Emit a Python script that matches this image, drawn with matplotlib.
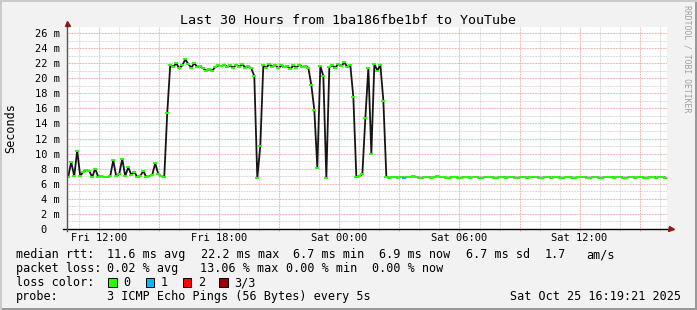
import matplotlib

matplotlib.use("Agg")
import matplotlib.pyplot as plt
import numpy as np
from matplotlib.patches import Rectangle

# median rtt (ms), one value every 9 minutes, starting Fri 10:22
rtt_ms = [
    6.9, 8.9, 7.0, 10.4, 7.0, 7.6, 7.8, 7.7, 6.9, 8.0,
    6.9, 7.0, 6.9, 6.9, 7.0, 9.1, 7.0, 7.3, 9.3, 7.0,
    8.2, 7.2, 7.6, 6.9, 7.0, 7.7, 6.9, 7.0, 7.2, 8.7,
    7.3, 7.0, 6.9,
    15.4,
    21.8, 21.5, 22.0, 21.3, 21.7, 22.5, 21.9, 21.4, 22.0, 21.5,
    21.6, 21.3, 21.0, 21.2, 21.0, 21.5, 21.7, 21.6, 21.8, 21.5,
    21.7, 21.4, 21.8, 21.5, 21.9, 21.4, 21.6, 21.3,
    20.3, 6.8, 11.0,
    21.7, 21.4, 21.9, 21.5, 21.8, 21.3, 21.7, 21.5, 21.6, 21.2,
    21.7, 21.4, 21.8, 21.5, 21.6, 21.4,
    19.1, 15.8, 8.1, 21.6, 20.3, 6.8, 21.5,
    21.7, 21.4, 21.9, 21.6, 22.1, 21.5, 21.7,
    17.5, 6.9, 7.0, 7.3, 14.7, 21.4, 10.0, 21.9, 21.0, 21.8, 17.0,
    6.9, 6.8, 6.9, 6.9, 6.8, 6.9, 6.8, 6.9, 6.9, 7.0,
    6.9, 6.8, 6.8, 6.9, 6.9, 6.8, 6.9, 7.0, 6.9, 6.9,
    6.8, 6.8, 6.9, 6.9, 6.8, 6.8, 6.9, 6.9, 6.8, 6.9,
    6.9, 6.8, 6.8, 6.9, 6.9, 6.9, 6.8, 6.8, 6.9, 6.9,
    6.8, 6.9, 6.9, 6.8, 6.8, 6.9, 6.9, 6.8, 6.9, 6.9,
    6.9, 6.8, 6.8, 6.9, 6.9, 6.8, 6.9, 6.9, 6.8, 6.8,
    6.9, 6.9, 6.8, 6.8, 6.9, 6.9, 6.9, 6.8, 6.8, 6.9,
    6.9, 6.8, 6.8, 6.9, 6.9, 6.9, 6.8, 6.9, 6.9, 6.8,
    6.8, 6.9, 6.9, 6.8, 6.9, 6.9, 6.8, 6.8, 6.9, 6.9,
    6.8, 6.9, 6.9, 6.8,
]
loss_samples = {112: 1}  # sample index -> lost pings out of 3

t_start = 10 + 22.2 / 60  # hours since Fri 00:00
t_step = 0.15
span_h = 30

xtick_pos = [12, 18, 24, 30, 36]
xtick_lab = ["Fri 12:00", "Fri 18:00", "Sat 00:00", "Sat 06:00", "Sat 12:00"]

loss_colors = ["#26ff00", "#00b8ff", "#ff0000", "#a10000"]
loss_labels = ["0", "1", "2", "3/3"]

legend_rows = [
    [("median rtt:", 16), ("11.6 ms avg", 107.3), ("22.2 ms max", 200.7),
     ("6.7 ms min", 293.3), ("6.9 ms now", 379.3), ("6.7 ms sd", 465.7),
     ("1.7", 545), ("am/s", 586)],
    [("packet loss:", 16), ("0.02 % avg", 107.3), ("13.06 % max", 200),
     ("0.00 % min", 286), ("0.00 % now", 372.3)],
]

W, H = 697, 310
MONO = "DejaVu Sans Mono"
RED_GRID = "#e8a0a0"
GREY_GRID = "#cfcfcf"


def fx(px):
    return px / W


def fy(py):
    return 1 - py / H


fig = plt.figure(figsize=(W / 100, H / 100), dpi=100, facecolor="#f2f2f2")

# 3d border
fig.add_artist(Rectangle((0, 0), 1, 2 / H, transform=fig.transFigure,
                         color="#999999", lw=0, zorder=-1))
fig.add_artist(Rectangle((fx(W - 2), 0), fx(2), 1, transform=fig.transFigure,
                         color="#999999", lw=0, zorder=-1))
fig.add_artist(Rectangle((0, fy(2)), 1, 2 / H, transform=fig.transFigure,
                         color="#cbcbcb", lw=0, zorder=-1))
fig.add_artist(Rectangle((0, 0), fx(2), 1, transform=fig.transFigure,
                         color="#cbcbcb", lw=0, zorder=-1))

left, right, top, bottom = 66.7, 667, 27, 229
ax = fig.add_axes([fx(left), fy(bottom), fx(right - left), fy(top) - fy(bottom)])
ax.set_facecolor("white")

t = t_start + t_step * (np.arange(len(rtt_ms)) + 0.5)
rtt = np.array(rtt_ms)

ax.plot(t, rtt, color="#151515", lw=1.3, zorder=3)
loss = np.array([loss_samples.get(i, 0) for i in range(len(rtt))])
for k, c in enumerate(loss_colors):
    m = loss == k
    if m.any():
        ax.plot(t[m], rtt[m], ls="none", marker="_", ms=2.4, mew=1.4,
                color=c, zorder=4)

ax.set_xlim(t_start, t_start + span_h)
ax.set_ylim(0, 26.8)

ax.set_xticks(np.arange(12, 40, 3))
ax.set_xticks(np.arange(11, 41, 1), minor=True)
ax.set_xticklabels([xtick_lab[xtick_pos.index(v)] if v in xtick_pos else ""
                    for v in np.arange(12, 40, 3)])
ax.set_yticks(np.arange(0, 27, 2))
ax.set_yticks(np.arange(1, 27, 2), minor=True)
ax.set_yticklabels(["0  "] + [f"{v} m" for v in range(2, 27, 2)])

ax.grid(which="major", color=RED_GRID, lw=0.75, ls=(0, (0.75, 0.75)))
ax.grid(which="minor", color=GREY_GRID, lw=0.75, ls=(0, (0.75, 0.75)))
ax.set_axisbelow(True)

ax.tick_params(axis="x", which="major", length=1.6, width=0.75, color=RED_GRID,
               pad=1.5, labelsize=7.45)
ax.tick_params(axis="x", which="minor", length=1.6, width=0.75, color=GREY_GRID)
ax.tick_params(axis="y", which="both", length=0, pad=5, labelsize=7.45)
for lab in ax.get_xticklabels() + ax.get_yticklabels():
    lab.set_family(MONO)

for s in ax.spines.values():
    s.set_visible(False)

# axes with arrows
ax.plot([-0.006, 1.006], [0, 0], transform=ax.transAxes, color="#000000",
        lw=1.0, clip_on=False, zorder=5)
ax.plot([0, 0], [-0.008, 1.012], transform=ax.transAxes, color="#555555",
        lw=1.0, clip_on=False, zorder=5)
ax.plot([1.007], [0], transform=ax.transAxes, marker=">", ms=3.6,
        color="#8b1a1a", clip_on=False, zorder=6)
ax.plot([0], [1.018], transform=ax.transAxes, marker="^", ms=3.6,
        color="#8b1a1a", clip_on=False, zorder=6)

fig.text(fx(348.5), fy(24), "Last 30 Hours from 1ba186fbe1bf to YouTube",
         ha="center", va="baseline", family=MONO, size=9.6, color="#000000")
fig.text(fx(11), fy(128), "Seconds", rotation=90, ha="center", va="center",
         family=MONO, size=8.5)
fig.text(fx(687), fy(5), "RRDTOOL / TOBI OETIKER", rotation=270,
         ha="center", va="top", family=MONO, size=5.9, color="#a0a0a0")

for row, base in zip(legend_rows, [258, 272]):
    for txt, x in row:
        fig.text(fx(x), fy(base), txt, ha="left", va="baseline",
                 family=MONO, size=8.5)

fig.text(fx(16), fy(286), "loss color:", ha="left", va="baseline",
         family=MONO, size=8.5)
box_x = [108.3, 145.7, 182.7, 219.3]
for c, lab, bx in zip(loss_colors, loss_labels, box_x):
    fig.add_artist(Rectangle((fx(bx), fy(286.7)), fx(8.3), 8.3 / H,
                             transform=fig.transFigure, facecolor=c,
                             edgecolor="black", lw=0.7))
    fig.text(fx(bx + 15), fy(286), lab, ha="left", va="baseline",
             family=MONO, size=8.5)

fig.text(fx(16), fy(300), "probe:", ha="left", va="baseline",
         family=MONO, size=8.5)
fig.text(fx(107.3), fy(300), "3 ICMP Echo Pings (56 Bytes) every 5s",
         ha="left", va="baseline", family=MONO, size=8.5)
fig.text(fx(681), fy(300), "Sat Oct 25 16:19:21 2025", ha="right",
         va="baseline", family=MONO, size=8.5)

fig.savefig("out.png", dpi=100, facecolor=fig.get_facecolor())
